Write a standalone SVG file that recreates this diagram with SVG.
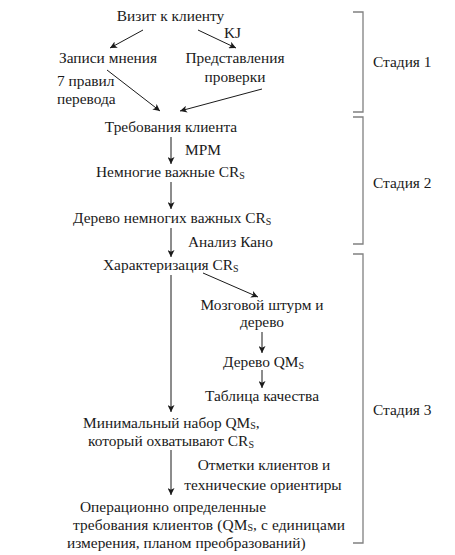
<svg xmlns="http://www.w3.org/2000/svg" width="455" height="555" viewBox="0 0 455 555">
<style>
text{font-family:"Liberation Serif","Times New Roman",serif;font-size:15.4px;fill:#1a1a1a}
.m{text-anchor:middle}
.sub{font-size:10px}
.c{stroke:#1a1a1a;stroke-width:1;fill:none;marker-end:url(#ah)}
.br{stroke:#808080;stroke-width:1.3;fill:none}
</style>
<defs>
<marker id="ah" viewBox="0 0 10 10" refX="10" refY="5" markerWidth="7" markerHeight="7" markerUnits="userSpaceOnUse" orient="auto">
<path d="M0,0 L10,5 L0,10 L2.5,5 Z" fill="#1a1a1a"/>
</marker>
</defs>
<g id="connectors">
<line class="c" x1="143" y1="30" x2="110" y2="48"/>
<line class="c" x1="198" y1="30" x2="236" y2="48"/>
<line class="c" x1="107" y1="70" x2="160" y2="111"/>
<line class="c" x1="262" y1="89" x2="180" y2="111"/>
<line class="c" x1="171" y1="137" x2="171" y2="164"/>
<line class="c" x1="171" y1="182" x2="171" y2="209"/>
<line class="c" x1="171" y1="228" x2="171" y2="257"/>
<line class="c" x1="203" y1="273" x2="258" y2="297"/>
<line class="c" x1="171" y1="275" x2="171" y2="412"/>
<line class="c" x1="262" y1="332" x2="262" y2="353"/>
<line class="c" x1="262" y1="370" x2="262" y2="388"/>
<line class="c" x1="171" y1="450" x2="171" y2="495"/>
</g>
<g id="n-visit"><text class="m" x="170.5" y="21">Визит к клиенту</text></g>
<g id="l-kj"><text x="224" y="38">KJ</text></g>
<g id="n-zapisi"><text class="m" x="108" y="63">Записи мнения</text></g>
<g id="n-predst"><text class="m" x="235" y="63">Представления</text><text class="m" x="235" y="82">проверки</text></g>
<g id="l-7"><text x="57" y="86">7 правил</text><text x="57" y="104">перевода</text></g>
<g id="n-treb"><text class="m" x="171" y="132">Требования клиента</text></g>
<g id="l-mpm"><text x="185" y="155">MPM</text></g>
<g id="n-nemnog"><text x="96" y="177">Немногие важные CR<tspan class="sub" dy="2">S</tspan></text></g>
<g id="n-derevo"><text x="73" y="223">Дерево немногих важных CR<tspan class="sub" dy="2">S</tspan></text></g>
<g id="l-kano"><text x="188" y="247">Анализ Кано</text></g>
<g id="n-char"><text x="103" y="270">Характеризация CR<tspan class="sub" dy="2">S</tspan></text></g>
<g id="n-mozg"><text class="m" x="262" y="310">Мозговой штурм и</text><text class="m" x="262" y="327">дерево</text></g>
<g id="n-qm"><text x="223" y="367">Дерево QM<tspan class="sub" dy="2">S</tspan></text></g>
<g id="n-tabl"><text class="m" x="262" y="401">Таблица качества</text></g>
<g id="n-min"><text x="83" y="428">Минимальный набор QM<tspan class="sub" dy="1">S</tspan><tspan dy="-1">,</tspan></text><text x="88" y="446">который охватывают CR<tspan class="sub" dy="2">S</tspan></text></g>
<g id="l-otm"><text class="m" x="264" y="470">Отметки клиентов и</text><text class="m" x="263" y="490">технические ориентиры</text></g>
<g id="n-oper"><text x="80" y="512">Операционно определенные</text><text x="73" y="530" textLength="272" lengthAdjust="spacing">требования клиентов (QM<tspan class="sub" dy="1">S</tspan><tspan dy="-1">, с единицами</tspan></text><text x="67" y="548">измерения, планом преобразований)</text></g>
<g id="stages">
<path class="br" d="M353,12 H363 V112 H353"/>
<path class="br" d="M353,117 H363 V244 H353"/>
<path class="br" d="M353,254 H363 V543 H353"/>
<text x="373" y="67">Стадия 1</text>
<text x="373" y="188">Стадия 2</text>
<text x="373" y="415">Стадия 3</text>
</g>
</svg>
